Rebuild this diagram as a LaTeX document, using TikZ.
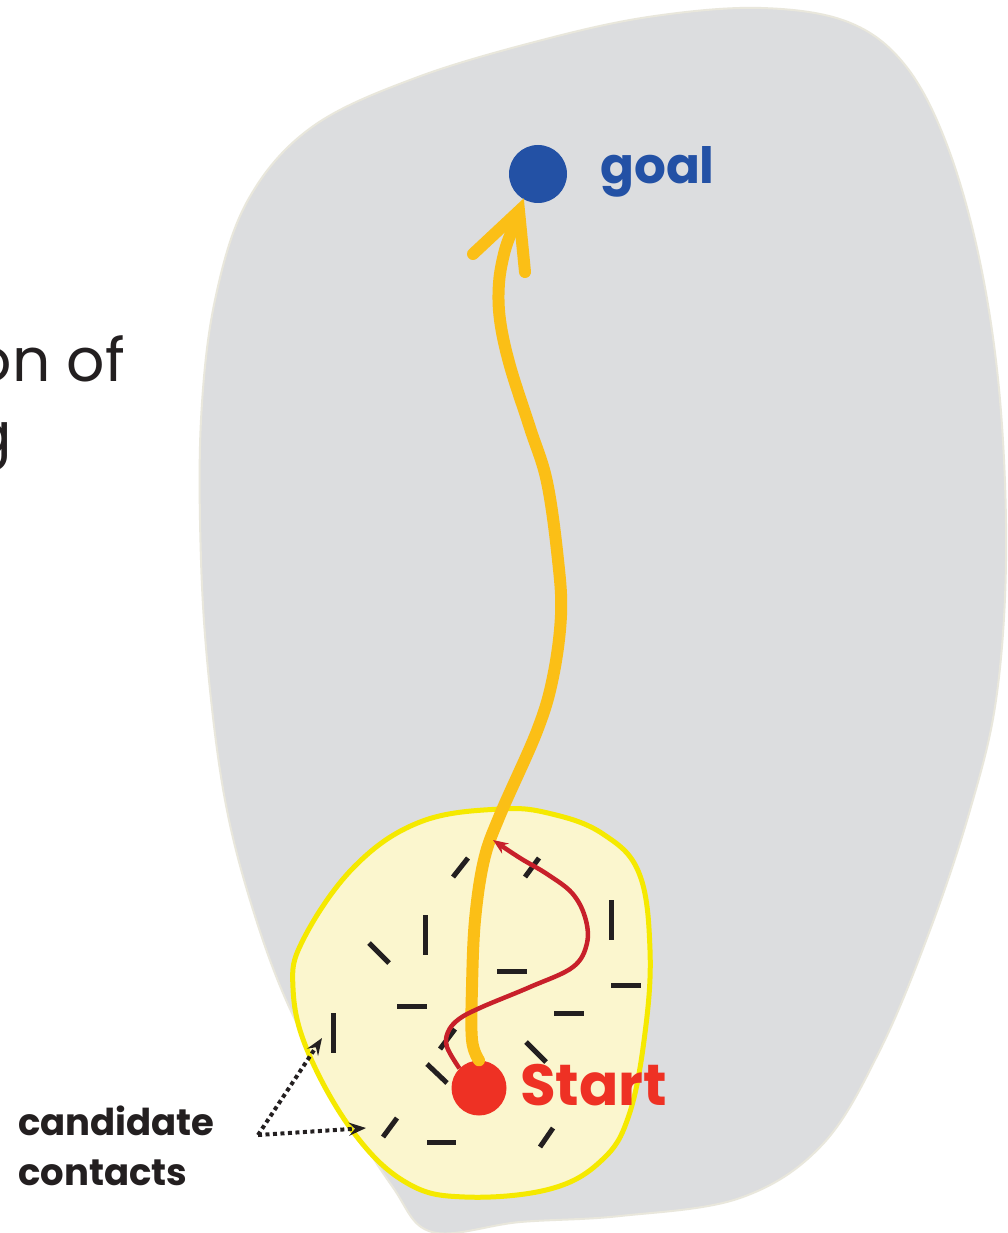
\documentclass[tikz,border=0pt]{standalone}
\usepackage{fontspec}
\setmainfont{Poppins}
\usetikzlibrary{arrows.meta}
\definecolor{blobgray}{HTML}{DCDDDF}
\definecolor{blobedge}{HTML}{E9E7DC}
\definecolor{zonefill}{HTML}{FBF6CE}
\definecolor{zoneedge}{HTML}{F5E900}
\definecolor{pathorange}{HTML}{FBBF16}
\definecolor{pathred}{HTML}{C8202A}
\definecolor{startred}{HTML}{EE3124}
\definecolor{goalblue}{HTML}{2351A5}
\definecolor{inkblack}{HTML}{231F20}
\tikzset{
  dotnode/.style={circle, inner sep=0pt, minimum size=#1},
  contact/.style={draw=inkblack, line width=5pt},
  pointer/.style={draw=inkblack, line width=4pt, dash pattern=on 4pt off 3.5pt,
     -{Stealth[length=17pt,width=13pt,inset=6pt]}},
  lbl/.style={inner sep=0pt, anchor=base west},
}
\begin{document}
\begin{tikzpicture}[x=1pt,y=-1pt]
\useasboundingbox (0,0) rectangle (1008,1233);
\fill[white] (0,0) rectangle (1008,1233);
\clip (0,0) rectangle (1008,1233);

% configuration space
\filldraw[fill=blobgray, draw=blobedge, line width=2pt]
  plot[smooth cycle, tension=0.6] coordinates {
  (761,8) (848,22) (905,65) (947,145) (980,262) (1000,400) (1006,560)
  (996,700) (970,810) (930,930) (880,1050) (822,1145) (740,1198)
  (620,1216) (520,1222) (432,1232) (392,1186) (338,1100) (286,1000)
  (250,900) (225,800) (209,680) (201,560) (201,420) (215,300) (248,200)
  (312,127) (418,77) (550,38) (655,16)};

% local zone
\filldraw[fill=zonefill, draw=zoneedge, line width=5pt]
  plot[smooth cycle, tension=0.65] coordinates {
  (500,809) (552,814) (603,834) (639,873) (650,950) (645,1033)
  (629,1115) (602,1160) (550,1189) (465,1197) (407,1183) (354,1133)
  (308,1052) (293,988) (303,940) (354,867) (420,822)};

% candidate contacts
\foreach \ax/\ay/\bx/\by in {
  453/877/468/858, 525/877/539/858, 425/915/425/955, 369/943/389/963,
  611/900/611/940, 497/971/527/971, 611/985/641/985, 397/1006/427/1006,
  554/1013/584/1013, 333/1013/333/1053, 440/1049/455/1029,
  526/1042/546/1062, 427/1064/447/1083, 383/1137/397/1118,
  427/1142/456/1142, 540/1147/553/1128}
  \draw[contact] (\ax,\ay) -- (\bx,\by);

% nodes
\node[dotnode=58pt, fill=goalblue] (goal) at (538,174) {};
\node[dotnode=55pt, fill=startred] (start) at (479,1088) {};

% global path
\coordinate (tip) at (519,211);
\draw[pathorange, line width=12pt, line cap=round]
  plot[smooth, tension=0.6] coordinates {
  (start.north) (472,1040) (472,987) (475,920) (484,860) (500,815)
  (537,731) (553,677) (561,615) (558,560) (547,482) (530,428)
  (510,366) (500,320) (499,283) (505,250) (514,226)};
\draw[pathorange, line width=12pt, line cap=round, line join=miter]
  (473,254) -- (tip) -- (525,272);

% local path
\coordinate (localend) at (493,840);
\draw[pathred, line width=4.5pt, -{Stealth[length=15pt,width=12pt]}]
  plot[smooth, tension=0.6] coordinates {
  (start.north west) (447,1047) (448,1032) (459,1019) (482,1007)
  (530,987) (573,967) (587,943) (585,917) (572,893) (547,874)
  (520,858) (localend)};

% labels
\node[lbl, text=goalblue, font=\bfseries\fontsize{50}{58}\selectfont] (goallbl) at (600,184) {goal};
\node[lbl, text=startred, font=\bfseries\fontsize{58}{64}\selectfont] (startlbl) at (520,1105) {Start};
\node[lbl, text=inkblack, font=\bfseries\fontsize{37}{44}\selectfont] (cand1) at (18,1135) {candidate};
\node[lbl, text=inkblack, font=\bfseries\fontsize{37}{44}\selectfont] (cand2) at (18,1185) {contacts};
\node[inner sep=0pt, anchor=base east, text=inkblack, font=\fontsize{60}{70}\selectfont] (cut1) at (125,381) {on of};
\node[inner sep=0pt, anchor=base east, text=inkblack, font=\fontsize{60}{70}\selectfont] (cut2) at (12,455) {g};

% pointers
\coordinate (pfrom) at (258,1135);
\coordinate (ptoA) at (322,1038);
\coordinate (ptoB) at (366,1128);
\draw[pointer] (pfrom) -- (ptoA);
\draw[pointer] (pfrom) -- (ptoB);
\end{tikzpicture}
\end{document}
